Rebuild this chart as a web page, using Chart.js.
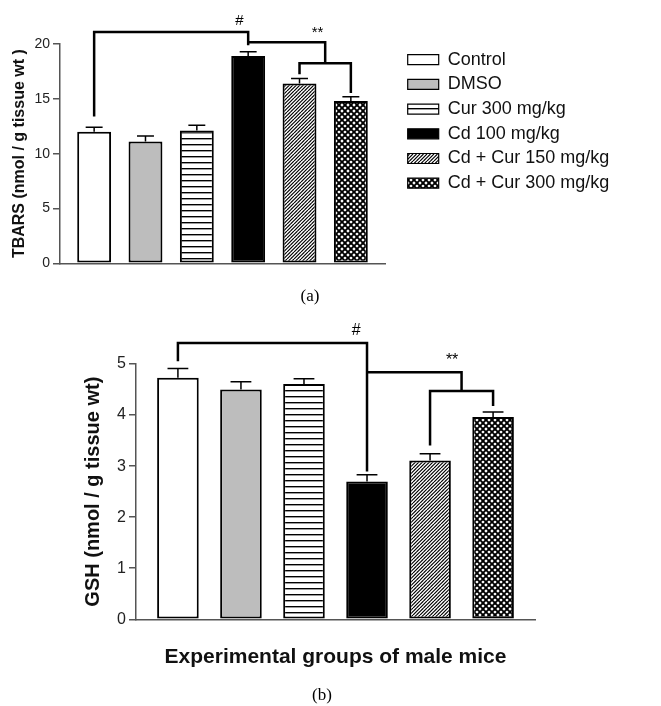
<!DOCTYPE html>
<html>
<head>
<meta charset="utf-8">
<script src="https://cdn.jsdelivr.net/npm/chart.js@4.4.1/dist/chart.umd.min.js"></script>
<style>
  body { margin: 0; background: #fff; width: 661px; height: 706px; position: relative; overflow: hidden; }
  canvas { position: absolute; left: 0; }
  #tbarsChart { top: 0; }
  #gshChart { top: 300px; }
  .caption { position: absolute; font: 17px "Liberation Serif", "Times New Roman", serif; color: #000; transform: translate(-50%, -50%); }
</style>
</head>
<body>
<canvas id="tbarsChart" width="661" height="300"></canvas>
<canvas id="gshChart" width="661" height="406"></canvas>
<div class="caption" style="left:310px; top:296px;">(a)</div>
<div class="caption" style="left:322px; top:695px;">(b)</div>
<script>
const FONT = "'Liberation Sans', Arial, sans-serif";

const groups = ["Control", "DMSO", "Cur 300 mg/kg", "Cd 100 mg/kg", "Cd + Cur 150 mg/kg", "Cd + Cur 300 mg/kg"];
const groupPos = [1, 2, 3, 4, 5, 6];

const tbars    = [12.0, 11.1, 12.1, 18.9, 16.4, 14.8];
const tbarsErr = [0.4, 0.5, 0.5, 0.4, 0.45, 0.4];
const tbarsTicks = [0, 5, 10, 15, 20];

const gsh    = [4.73, 4.50, 4.61, 2.70, 3.11, 3.96];
const gshErr = [0.18, 0.15, 0.10, 0.13, 0.13, 0.10];
const gshTicks = [0, 1, 2, 3, 4, 5];

// significance brackets, [x1, y1, x2, y2] in data units
const tbarsBrackets = [
  [1, 13.5, 1, 21.1], [1, 21.1, 4, 21.1], [4, 21.1, 4, 20.0],
  [4, 20.15, 5.5, 20.15], [5.5, 20.15, 5.5, 18.25],
  [5, 18.25, 6, 18.25], [5, 18.25, 5, 17.35], [6, 18.25, 6, 15.65]
];
const tbarsMarks = [["#", 3.83, 22.15], ["**", 5.35, 21.0]];

const gshBrackets = [
  [1, 5.08, 1, 5.41], [1, 5.41, 4, 5.41], [4, 5.41, 4, 2.92],
  [4, 4.84, 5.5, 4.84], [5.5, 4.84, 5.5, 4.47],
  [5, 4.47, 6, 4.47], [5, 4.47, 5, 3.43], [6, 4.47, 6, 4.2]
];
const gshMarks = [["#", 3.83, 5.65], ["**", 5.35, 5.06]];

function makePattern(w, h, draw) {
  const c = document.createElement("canvas");
  c.width = w; c.height = h;
  const g = c.getContext("2d");
  g.fillStyle = "#fff";
  g.fillRect(0, 0, w, h);
  g.strokeStyle = "#000";
  draw(g, w, h);
  return g.createPattern(c, "repeat");
}

const hLines = makePattern(6, 6, (g, w) => {
  g.lineWidth = 1.4;
  g.beginPath(); g.moveTo(0, 0.7); g.lineTo(w, 0.7); g.stroke();
});

const diagLines = makePattern(7, 7, (g, w, h) => {
  g.lineWidth = 1.2;
  g.beginPath();
  for (let k = -7; k <= 10.5; k += 3.5) { g.moveTo(k, h); g.lineTo(k + w, 0); }
  g.stroke();
});

const crossHatch = makePattern(6, 6, (g, w, h) => {
  g.lineWidth = 1.9;
  g.beginPath();
  for (let k = -6; k <= 6; k += 6) {
    g.moveTo(k, h); g.lineTo(k + w, 0);
    g.moveTo(k, 0); g.lineTo(k + w, h);
  }
  g.stroke();
});

const fills = ["#ffffff", "#bdbdbd", hLines, "#000000", diagLines, crossHatch];

// error bars (upper only), brackets and their labels
function sigPlugin(values, errors, brackets, marks, markFont) {
  return {
    id: "sig",
    afterDatasetsDraw(chart) {
      const { ctx, scales: { x, y } } = chart;
      const bars = chart.getDatasetMeta(0).data;
      ctx.save();
      ctx.strokeStyle = "#000";
      ctx.lineWidth = 1.5;
      values.forEach((v, i) => {
        const cx = bars[i].x;
        const top = y.getPixelForValue(v);
        const tip = y.getPixelForValue(v + errors[i]);
        const half = bars[i].width / 4;
        ctx.beginPath();
        ctx.moveTo(cx, top); ctx.lineTo(cx, tip);
        ctx.moveTo(cx - half, tip); ctx.lineTo(cx + half, tip);
        ctx.stroke();
      });
      ctx.lineWidth = 2.5;
      ctx.lineCap = "square";
      ctx.beginPath();
      brackets.forEach(([x1, y1, x2, y2]) => {
        ctx.moveTo(x.getPixelForValue(x1), y.getPixelForValue(y1));
        ctx.lineTo(x.getPixelForValue(x2), y.getPixelForValue(y2));
      });
      ctx.stroke();
      ctx.fillStyle = "#000";
      ctx.font = markFont;
      ctx.textAlign = "center";
      ctx.textBaseline = "middle";
      marks.forEach(([t, mx, my]) => ctx.fillText(t, x.getPixelForValue(mx), y.getPixelForValue(my)));
      ctx.restore();
    }
  };
}

function barDataset(values) {
  return {
    data: values.map((v, i) => ({ x: groupPos[i], y: v })),
    backgroundColor: fills,
    borderColor: "#000",
    borderWidth: 2,
    borderSkipped: false,
    barPercentage: 0.66,
    categoryPercentage: 1
  };
}

function yAxis(ticks, fontSize, title, titleSize, titlePad, width) {
  return {
    type: "linear",
    min: ticks[0],
    max: ticks[ticks.length - 1],
    afterBuildTicks: s => { s.ticks = ticks.map(v => ({ value: v })); },
    afterFit: s => { s.width = width; },
    grid: { drawOnChartArea: false, drawTicks: true, tickLength: 7, color: "#555", lineWidth: 1.5 },
    border: { display: true, color: "#555", width: 1.5 },
    ticks: { color: "#222", font: { family: FONT, size: fontSize }, padding: 3 },
    title: { display: true, text: title, color: "#111", font: { family: FONT, size: titleSize, weight: "bold" }, padding: { top: titlePad, bottom: 0 } }
  };
}

function xAxis(height, title) {
  return {
    type: "linear",
    min: 0.335,
    max: 6.665,
    offset: false,
    afterFit: s => { s.height = height; },
    grid: { display: false },
    border: { display: true, color: "#555", width: 1.5 },
    ticks: { display: false },
    title: title
      ? { display: true, text: title, color: "#111", font: { family: FONT, size: 21, weight: "bold" }, padding: { top: 0, bottom: 0 } }
      : { display: false }
  };
}

const tbarsChart = new Chart(document.getElementById("tbarsChart"), {
  type: "bar",
  data: { datasets: [barDataset(tbars)] },
  options: {
    responsive: false,
    animation: false,
    layout: { padding: { left: 0, top: 44, bottom: 36.7, right: 0 } },
    scales: {
      x: xAxis(0, null),
      y: yAxis(tbarsTicks, 14, "TBARS (nmol / g tissue wt )", 16, 10, 60),
      pad: {
        type: "linear", position: "right", display: true,
        grid: { display: false }, border: { display: false }, ticks: { display: false },
        afterFit: s => { s.width = 16; }
      }
    },
    plugins: {
      tooltip: { enabled: false },
      legend: {
        position: "right",
        align: "start",
        maxWidth: 320,
        labels: {
          boxWidth: 31,
          boxHeight: 10,
          padding: 6.7,
          color: "#111",
          font: { family: FONT, size: 18 },
          generateLabels: () => groups.map((g, i) => ({
            text: g, fillStyle: fills[i], strokeStyle: "#000", lineWidth: 1.2,
            hidden: false, index: i, fontColor: "#111"
          }))
        }
      }
    }
  },
  plugins: [sigPlugin(tbars, tbarsErr, tbarsBrackets, tbarsMarks, "15px " + FONT)]
});

// put the plot's right edge where the reference has it, next to the legend
tbarsChart.options.layout.padding.right = Math.max(0, 661 - 385 - 16 - tbarsChart.legend.width);
tbarsChart.update();

new Chart(document.getElementById("gshChart"), {
  type: "bar",
  data: { datasets: [barDataset(gsh)] },
  options: {
    responsive: false,
    animation: false,
    layout: { padding: { left: 0, top: 64, bottom: 35.7, right: 126 } },
    scales: {
      x: xAxis(51, "Experimental groups of male mice"),
      y: yAxis(gshTicks, 16, "GSH (nmol / g tissue wt)", 20, 81, 136)
    },
    plugins: {
      tooltip: { enabled: false },
      legend: { display: false }
    }
  },
  plugins: [sigPlugin(gsh, gshErr, gshBrackets, gshMarks, "16px " + FONT)]
});
</script>
</body>
</html>
